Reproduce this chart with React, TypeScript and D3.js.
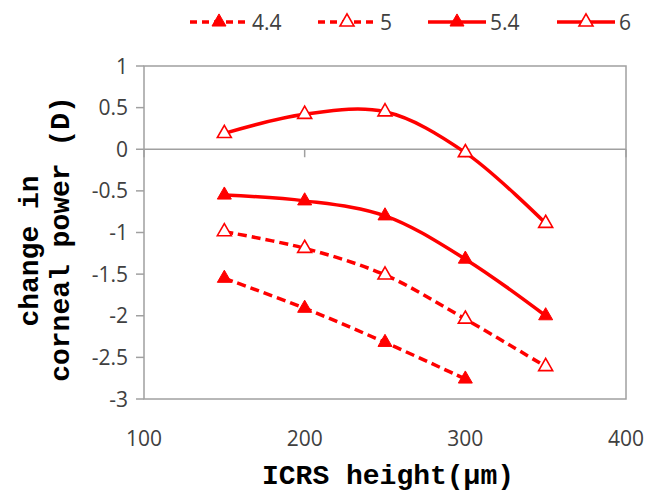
import React from "react";
import * as d3 from "d3";

const heights = [150, 200, 250, 300, 350];

const seriesNames = ["4.4", "5", "5.4", "6"];
const s44 = [-1.55, -1.91, -2.32, -2.76];
const s5 = [-0.99, -1.19, -1.51, -2.04, -2.61];
const s54 = [-0.55, -0.62, -0.8, -1.32, -2.0];
const s6 = [0.19, 0.42, 0.45, -0.04, -0.89];

const xTicks = [100, 200, 300, 400];
const yTicks = [1, 0.5, 0, -0.5, -1, -1.5, -2, -2.5, -3];

const width = 649;
const height = 495;
const left = 144;
const right = 626;
const top = 66;
const bottom = 399;

const red = "#ff0000";
const grey = "#a0a0a0";
const tickFont = "'Open Sans', 'Liberation Sans', sans-serif";
const titleFont =
  "Liberation Mono, Cousine, 'Nimbus Mono PS', FreeMono, 'Courier New', Courier, monospace";

const series = [
  { name: seriesNames[0], values: s44, dashed: true, filled: true },
  { name: seriesNames[1], values: s5, dashed: true, filled: false },
  { name: seriesNames[2], values: s54, dashed: false, filled: true },
  { name: seriesNames[3], values: s6, dashed: false, filled: false },
];

const legendX = [190, 318, 428, 557];

const App = () => {
  let xScale = d3.scaleLinear().domain([100, 400]).range([left, right]);
  let yScale = d3.scaleLinear().domain([-3, 1]).range([bottom, top]);

  let line = d3
    .line<number>()
    .x((d, i) => xScale(heights[i]))
    .y((d) => yScale(d))
    .curve(d3.curveCatmullRom.alpha(0.5));

  let triangle = d3.symbol().type(d3.symbolTriangle).size(85)();

  let marker = (x: number, y: number, filled: boolean, key: string) => (
    <path
      key={key}
      d={triangle || ""}
      transform={"translate(" + x + "," + y + ")"}
      fill={filled ? red : "#ffffff"}
      stroke={red}
      strokeWidth={filled ? 1 : 1.6}
    />
  );

  return (
    <svg
      width={width}
      height={height}
      style={{ position: "absolute", left: 0, top: 0, background: "#fff" }}
    >
      {/* plot border */}
      <rect
        x={left}
        y={top}
        width={right - left}
        height={bottom - top}
        fill="none"
        stroke={grey}
        strokeWidth={1.5}
      />

      {/* y axis ticks and labels */}
      {yTicks.map((t) => (
        <g key={"y" + t}>
          <line
            x1={left - 8}
            x2={left}
            y1={yScale(t)}
            y2={yScale(t)}
            stroke={grey}
            strokeWidth={1.5}
          />
          <text
            x={left - 16}
            y={yScale(t)}
            dy="0.36em"
            textAnchor="end"
            fontFamily={tickFont}
            fontSize={21}
            fill="#404040"
          >
            {t}
          </text>
        </g>
      ))}

      {/* x axis crosses at zero */}
      <line
        x1={left}
        x2={right}
        y1={yScale(0)}
        y2={yScale(0)}
        stroke={grey}
        strokeWidth={1.5}
      />
      {xTicks.map((t) => (
        <g key={"x" + t}>
          <line
            x1={xScale(t)}
            x2={xScale(t)}
            y1={yScale(0)}
            y2={yScale(0) + 8}
            stroke={grey}
            strokeWidth={1.5}
          />
          <text
            x={xScale(t)}
            y={446}
            textAnchor="middle"
            fontFamily={tickFont}
            fontSize={21}
            fill="#404040"
          >
            {t}
          </text>
        </g>
      ))}

      {/* series */}
      {series.map((s) => (
        <g key={s.name}>
          <path
            d={line(s.values) || ""}
            fill="none"
            stroke={red}
            strokeWidth={3.5}
            strokeDasharray={s.dashed ? "9,5" : undefined}
          />
          {s.values.map((v, i) =>
            marker(xScale(heights[i]), yScale(v), s.filled, s.name + i)
          )}
        </g>
      ))}

      {/* legend */}
      {series.map((s, i) => (
        <g key={"leg" + s.name}>
          <line
            x1={legendX[i]}
            x2={legendX[i] + 58}
            y1={22}
            y2={22}
            stroke={red}
            strokeWidth={3.5}
            strokeDasharray={s.dashed ? "7,5" : undefined}
          />
          {marker(legendX[i] + 29, 22, s.filled, "lm" + i)}
          <text
            x={legendX[i] + 62}
            y={22}
            dy="0.36em"
            fontFamily={tickFont}
            fontSize={21}
            fill="#404040"
          >
            {s.name}
          </text>
        </g>
      ))}

      {/* axis titles */}
      <text
        x={388}
        y={484}
        textAnchor="middle"
        fontFamily={titleFont}
        fontWeight="bold"
        fontSize={28}
        fill="#000"
      >
        ICRS height(µm)
      </text>
      <text
        transform="translate(38,251) rotate(-90)"
        textAnchor="middle"
        fontFamily={titleFont}
        fontWeight="bold"
        fontSize={28}
        fill="#000"
      >
        change in
      </text>
      <text
        transform="translate(69,239) rotate(-90)"
        textAnchor="middle"
        fontFamily={titleFont}
        fontWeight="bold"
        fontSize={28}
        fill="#000"
      >
        corneal power (D)
      </text>
    </svg>
  );
};

export default App;
